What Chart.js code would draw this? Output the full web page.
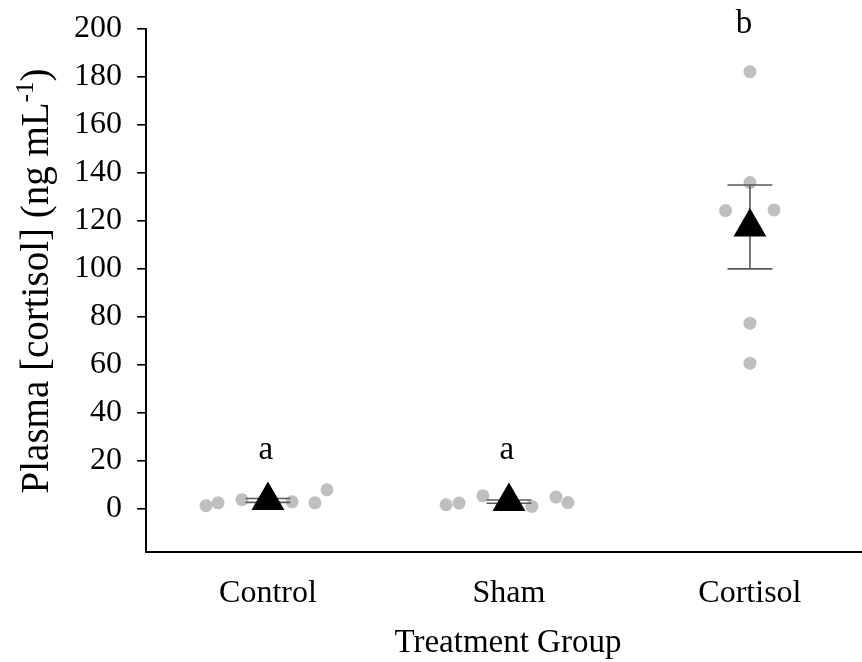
<!DOCTYPE html>
<html><head><meta charset="utf-8">
<script src="https://cdn.jsdelivr.net/npm/chart.js@4"></script>
<style>html,body{margin:0;padding:0;background:#fff;}</style>
</head><body>
<canvas id="c" width="862" height="662"></canvas>
<script>
// ---- data ----
const categories = ['Control', 'Sham', 'Cortisol'];
const controlValues  = [1.3, 2.5, 3.8, 2.9, 2.5, 7.9];
const shamValues     = [1.7, 2.4, 5.4, 1.0, 4.9, 2.6];
const cortisolValues = [124.3, 182.2, 136.0, 77.4, 60.7, 124.6];
const controlJitter  = [-0.257, -0.207, -0.108, 0.100, 0.195, 0.245];
const shamJitter     = [-0.261, -0.207, -0.108, 0.095, 0.195, 0.245];
const cortisolJitter = [-0.101, 0, 0, 0, 0, 0.100];
const groupMeans = [3.5, 3.0, 117.5];
const groupSE    = [0.8, 0.7, 17.5];
const significanceLetters = ['a', 'a', 'b'];
const letterValues = [20.7, 20.7, 198.3];
const yTicks = [0, 20, 40, 60, 80, 100, 120, 140, 160, 180, 200];
const yTitleMain = 'Plasma [cortisol] (ng mL';
const yTitleSup = '-1';
const yTitleEnd = ')';
const xTitle = 'Treatment Group';

// ---- build datasets ----
const FONT = "'Liberation Serif', 'Times New Roman', serif";
const groups = [controlValues, shamValues, cortisolValues];
const jitters = [controlJitter, shamJitter, cortisolJitter];
const pointData = [];
groups.forEach((vals, g) => vals.forEach((v, i) => pointData.push({x: g + 1 + jitters[g][i], y: v})));
const meanData = groupMeans.map((m, g) => ({x: g + 1, y: m}));
const capHalf = 0.093;
const errData = [];
groupMeans.forEach((m, g) => {
  const c = g + 1, hi = m + groupSE[g], lo = m - groupSE[g];
  errData.push({x: c - capHalf, y: hi}, {x: c + capHalf, y: hi}, {x: c, y: null},
               {x: c, y: hi}, {x: c, y: lo}, {x: c, y: null},
               {x: c - capHalf, y: lo}, {x: c + capHalf, y: lo}, {x: c, y: null});
});

const annotate = {
  id: 'annotate',
  afterDatasetsDraw(chart) {
    const ctx = chart.ctx, xs = chart.scales.x, ys = chart.scales.y;
    ctx.save();
    ctx.fillStyle = '#000';
    ctx.font = '33px ' + FONT;
    ctx.textAlign = 'center';
    ctx.textBaseline = 'alphabetic';
    significanceLetters.forEach((l, g) => {
      ctx.fillText(l, xs.getPixelForValue(g + 1) - (g === 2 ? 6 : 2), ys.getPixelForValue(letterValues[g]));
    });
    ctx.restore();
  },
  afterDraw(chart) {
    const ctx = chart.ctx, xs = chart.scales.x;
    ctx.save();
    ctx.fillStyle = '#000';
    // x title
    ctx.font = '33px ' + FONT;
    ctx.textAlign = 'center';
    ctx.textBaseline = 'alphabetic';
    ctx.fillText(xTitle, xs.getPixelForValue(2) - 1, 652);
    // y title (rotated, with superscript)
    const F = 39, FS = 25;
    ctx.translate(48, 281);
    ctx.rotate(-Math.PI / 2);
    ctx.textAlign = 'left';
    ctx.font = F + 'px ' + FONT;
    const w1 = ctx.measureText(yTitleMain).width;
    const w3 = ctx.measureText(yTitleEnd).width;
    ctx.font = FS + 'px ' + FONT;
    const w2 = ctx.measureText(yTitleSup).width;
    let x0 = -(w1 + w2 + w3) / 2;
    ctx.font = F + 'px ' + FONT;
    ctx.fillText(yTitleMain, x0, 0);
    ctx.font = FS + 'px ' + FONT;
    ctx.fillText(yTitleSup, x0 + w1, -15);
    ctx.font = F + 'px ' + FONT;
    ctx.fillText(yTitleEnd, x0 + w1 + w2, 0);
    ctx.restore();
  }
};

const zeroPad = s => { s.paddingLeft = 0; s.paddingRight = 0; s.paddingTop = 0; s.paddingBottom = 0; };

new Chart(document.getElementById('c'), {
  type: 'scatter',
  data: {
    datasets: [
      { label: 'mean', data: meanData, pointStyle: 'triangle', pointRadius: 19,
        backgroundColor: '#000', borderColor: '#000', borderWidth: 0, order: 0 },
      { label: 'se', data: errData, showLine: true, spanGaps: false, pointRadius: 0,
        borderColor: '#595959', borderWidth: 1.6, order: 1 },
      { label: 'individual', data: pointData, pointRadius: 6.5, backgroundColor: '#BFBFBF',
        borderWidth: 0, order: 2 }
    ]
  },
  plugins: [annotate],
  options: {
    responsive: false,
    animation: false,
    layout: { autoPadding: false, padding: { top: 29, right: 0, left: 0, bottom: 0 } },
    plugins: { legend: { display: false }, tooltip: { enabled: false } },
    scales: {
      x: {
        type: 'linear', min: 0.494, max: 3.465,
        afterBuildTicks: s => { s.ticks = categories.map((c, i) => ({value: i + 1})); },
        afterFit: s => { s.height = 110; zeroPad(s); },
        ticks: { callback: v => categories[Math.round(v) - 1], padding: 14, color: '#000',
                 font: { family: FONT, size: 32 } },
        grid: { display: false },
        border: { display: true, color: '#000', width: 2 }
      },
      y: {
        min: -18, max: 200,
        afterBuildTicks: s => { s.ticks = yTicks.map(v => ({value: v})); },
        afterFit: s => { s.width = 146; zeroPad(s); },
        ticks: { padding: 15, color: '#000', font: { family: FONT, size: 32 } },
        grid: { display: true, drawOnChartArea: false, drawTicks: true, tickLength: 9,
                color: '#000', lineWidth: 1.6 },
        border: { display: true, color: '#000', width: 2 }
      }
    }
  }
});
</script>
</body></html>
